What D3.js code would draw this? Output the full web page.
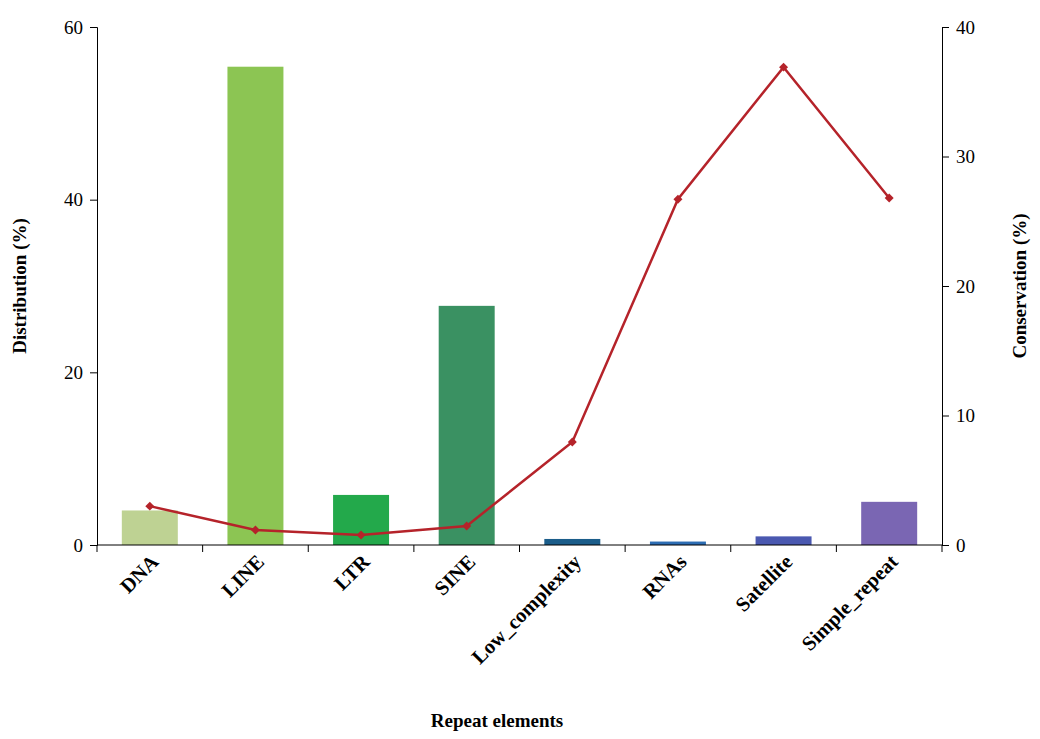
<!DOCTYPE html>
<html><head><meta charset="utf-8">
<script src="https://cdn.jsdelivr.net/npm/d3@7/dist/d3.min.js"></script>
<style>body{margin:0;background:#fff}text{font-family:"Liberation Serif","Times New Roman",serif}</style>
</head><body><svg id="c" width="1040" height="739"></svg>
<script>
const categories=["DNA","LINE","LTR","SINE","Low_complexity","RNAs","Satellite","Simple_repeat"];
const distribution=[4.0,55.4,5.8,27.7,0.7,0.4,1.0,5.0];
const conservation=[3.0,1.16,0.77,1.47,7.95,26.7,36.9,26.8];
const barColors=["#bed293","#8cc553","#23a94b","#3a9162","#1b5d8a","#2c6db3","#4a58b0","#7a66b3"];
const leftTicks=[0,20,40,60], rightTicks=[0,10,20,30,40];
const svg=d3.select("#c");
const L=97,R=942,T=27,B=545;
const x=d3.scaleBand().domain(categories).range([L,R]).paddingInner(0.47).paddingOuter(0.235);
const xb=d3.scaleBand().domain(categories).range([L,R]);
const y=d3.scaleLinear().domain([0,60]).range([B,T]);
const y2=d3.scaleLinear().domain([0,40]).range([B,T]);
svg.selectAll("rect.b").data(categories).join("rect").attr("x",d=>x(d)).attr("width",x.bandwidth())
 .attr("y",(d,i)=>y(distribution[i])).attr("height",(d,i)=>B-y(distribution[i])).attr("fill",(d,i)=>barColors[i]);
const ga=svg.append("g").attr("transform",`translate(${L},0)`).call(d3.axisLeft(y).tickValues(leftTicks).tickSize(7));
const gb=svg.append("g").attr("transform",`translate(${R},0)`).call(d3.axisRight(y2).tickValues(rightTicks).tickSize(7));
[ga,gb].forEach(g=>{g.selectAll("text").attr("font-size",19).attr("font-family","Liberation Serif");g.select(".domain").attr("stroke","#000");});
ga.selectAll("text").attr("dx",-4);gb.selectAll("text").attr("dx",4);
const gx=svg.append("g");
gx.append("line").attr("x1",L).attr("x2",R).attr("y1",B).attr("y2",B).attr("stroke","#000");
categories.concat([null]).forEach((d,i)=>{const xx=L+i*xb.bandwidth();gx.append("line").attr("x1",xx).attr("x2",xx).attr("y1",B).attr("y2",B+7).attr("stroke","#000");});
categories.forEach(d=>{const cx=x(d)+x.bandwidth()/2+10;gx.append("text").attr("transform",`translate(${cx},${B+18}) rotate(-45)`)
 .attr("text-anchor","end").attr("font-size",20.5).attr("font-weight","bold").text(d);});
const line=d3.line().x((d,i)=>x(categories[i])+x.bandwidth()/2).y(d=>y2(d));
svg.append("path").datum(conservation).attr("d",line).attr("fill","none").attr("stroke","#b5232a").attr("stroke-width",2.5);
svg.selectAll("path.m").data(conservation).join("path").attr("d",d3.symbol(d3.symbolSquare,40))
 .attr("transform",(d,i)=>`translate(${x(categories[i])+x.bandwidth()/2},${y2(d)}) rotate(45)`).attr("fill","#b5232a");
svg.append("text").attr("transform","translate(26,286) rotate(-90)").attr("text-anchor","middle").attr("font-size",19).attr("font-weight","bold").text("Distribution (%)");
svg.append("text").attr("transform","translate(1026,286) rotate(-90)").attr("text-anchor","middle").attr("font-size",19).attr("font-weight","bold").text("Conservation (%)");
svg.append("text").attr("x",497).attr("y",727).attr("text-anchor","middle").attr("font-size",19).attr("font-weight","bold").text("Repeat elements");
</script></body></html>
